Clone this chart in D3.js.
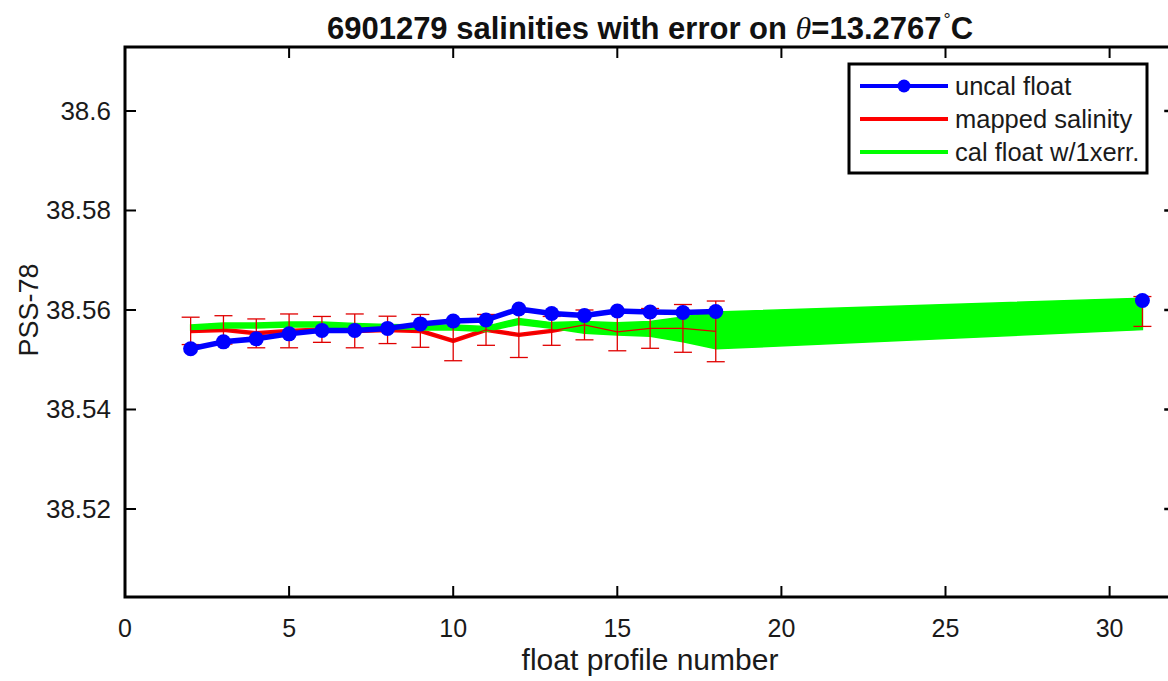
<!DOCTYPE html>
<html><head><meta charset="utf-8">
<script src="https://cdn.jsdelivr.net/npm/d3@7/dist/d3.min.js"></script>
<style>
html,body{margin:0;padding:0;background:#fff;}
svg{display:block;font-family:"Liberation Sans",Arial,sans-serif;}
</style></head>
<body>
<svg id="chart" width="1168" height="681"></svg>
<script>
// ---- data ----
const profiles = [2,3,4,5,6,7,8,9,10,11,12,13,14,15,16,17,18,31];
const uncalSal = [38.5522,38.5536,38.5542,38.5552,38.5559,38.5559,38.5563,38.5572,38.5578,38.5580,38.5602,38.5593,38.5589,38.5598,38.5596,38.5595,38.5597,38.5619];
const mappedSal = [38.5558,38.5560,38.5553,38.5558,38.5561,38.5558,38.5560,38.5558,38.5538,38.5560,38.5550,38.5558,38.5570,38.5556,38.5563,38.5563,38.5557,38.5597];
const mappedErr = [0.00275,0.00285,0.0029,0.0034,0.0026,0.0034,0.00275,0.0033,0.0040,0.0031,0.00455,0.0029,0.0030,0.0038,0.0040,0.0048,0.0061,0.0030];
const calSal = [38.5565,38.5569,38.5569,38.5571,38.5571,38.5568,38.5566,38.5565,38.5565,38.5562,38.5577,38.5569,38.5565,38.5562,38.5562,38.5561,38.5559,38.5592];
const calErr = [0.0005,0.0005,0.0005,0.0005,0.0005,0.0005,0.0005,0.0005,0.0005,0.0005,0.0006,0.00056,0.00117,0.00124,0.0015,0.0025,0.0037,0.00315];
const xTicks = [0,5,10,15,20,25,30];
const yTicks = [38.52,38.54,38.56,38.58,38.6];
const yTickLabels = ["38.52","38.54","38.56","38.58","38.6"];
const legendLabels = ["uncal float","mapped salinity","cal float w/1xerr."];

// ---- layout ----
const svg = d3.select("#chart");
const L = 125, T = 47, B = 597;
const x = d3.scaleLinear().domain([0,32]).range([L, L + 32*32.82]);
const y = d3.scaleLinear().domain([38.50231,38.61286]).range([B, T]);
const R = x(32);

const rows = profiles.map((p,i)=>({p, u:uncalSal[i], m:mappedSal[i], me:mappedErr[i], c:calSal[i], ce:calErr[i]}));
const segs = [];
rows.forEach((d,i)=>{ if(i===0 || d.p - rows[i-1].p > 1) segs.push([]); segs[segs.length-1].push(d); });

svg.append("rect").attr("width",1168).attr("height",681).attr("fill","#fff");

const g = svg.append("g");
const lineM = d3.line().x(d=>x(d.p)).y(d=>y(d.m));
segs.filter(s=>s.length>1).forEach(s=>g.append("path").attr("d",lineM(s)).attr("fill","none").attr("stroke","#ff0000").attr("stroke-width",4.5).attr("stroke-linejoin","round"));
const area = d3.area().x(d=>x(d.p)).y0(d=>y(d.c - d.ce)).y1(d=>y(d.c + d.ce));
g.append("path").attr("d",area(rows)).attr("fill","#00ff00").attr("stroke","#00ff00").attr("stroke-width",1.5);
segs.filter(s=>s.length>1).forEach(s=>g.append("path").attr("d",lineM(s)).attr("fill","none").attr("stroke","#e00000").attr("stroke-width",1.3));
const eb = g.append("g").attr("stroke","#e00000").attr("stroke-width",1.3);
rows.forEach(d=>{
  const xc = x(d.p), y1 = y(d.m + d.me), y2 = y(d.m - d.me);
  eb.append("line").attr("x1",xc).attr("x2",xc).attr("y1",y1).attr("y2",y2);
  eb.append("line").attr("x1",xc-9).attr("x2",xc+9).attr("y1",y1).attr("y2",y1);
  eb.append("line").attr("x1",xc-9).attr("x2",xc+9).attr("y1",y2).attr("y2",y2);
});
const lineU = d3.line().x(d=>x(d.p)).y(d=>y(d.u));
segs.filter(s=>s.length>1).forEach(s=>g.append("path").attr("d",lineU(s)).attr("fill","none").attr("stroke","#0000ff").attr("stroke-width",5.5).attr("stroke-linejoin","round"));
g.selectAll("circle.u").data(rows).join("circle").attr("class","u")
  .attr("cx",d=>x(d.p)).attr("cy",d=>y(d.u)).attr("r",7.5).attr("fill","#0000ff");

// ---- axes box ----
const ax = svg.append("g");
ax.append("rect").attr("x",L).attr("y",T).attr("width",R-L).attr("height",B-T).attr("fill","none").attr("stroke","#000").attr("stroke-width",3);
const tl = 11;
xTicks.forEach(t=>{
  ax.append("line").attr("x1",x(t)).attr("x2",x(t)).attr("y1",B).attr("y2",B-tl).attr("stroke","#000").attr("stroke-width",2);
  ax.append("line").attr("x1",x(t)).attr("x2",x(t)).attr("y1",T).attr("y2",T+tl).attr("stroke","#000").attr("stroke-width",2);
  ax.append("text").attr("x",x(t)).attr("y",637).attr("text-anchor","middle").attr("font-size",25).attr("fill","#1a1a1a").text(t);
});
yTicks.forEach((t,i)=>{
  ax.append("line").attr("x1",L).attr("x2",L+tl).attr("y1",y(t)).attr("y2",y(t)).attr("stroke","#000").attr("stroke-width",2);
  ax.append("line").attr("x1",R).attr("x2",R-tl).attr("y1",y(t)).attr("y2",y(t)).attr("stroke","#000").attr("stroke-width",2.5);
  ax.append("text").attr("x",111).attr("y",y(t)+9).attr("text-anchor","end").attr("font-size",26).attr("fill","#1a1a1a").text(yTickLabels[i]);
});
svg.append("text").attr("x",650).attr("y",670).attr("text-anchor","middle").attr("font-size",30).attr("fill","#1a1a1a").text("float profile number");
svg.append("text").attr("transform","translate(38,310) rotate(-90)").attr("text-anchor","middle").attr("font-size",27).attr("fill","#1a1a1a").text("PSS-78");

// title
const title = svg.append("text").attr("x",650).attr("y",39).attr("text-anchor","middle").attr("font-size",31).attr("font-weight","bold").attr("fill","#111");
title.append("tspan").text("6901279 salinities with error on ");
title.append("tspan").attr("font-family","'Liberation Serif','DejaVu Serif',serif").attr("font-style","italic").attr("font-weight","normal").attr("font-size",32).text("θ");
title.append("tspan").text("=13.2767");
title.append("tspan").attr("font-size",18).attr("font-weight","normal").attr("dy",-13).attr("dx",2).text("°");
title.append("tspan").attr("dy",13).text("C");

// legend
const lg = svg.append("g");
lg.append("rect").attr("x",849).attr("y",64).attr("width",298).attr("height",109).attr("fill","#fff").attr("stroke","#000").attr("stroke-width",3);
const legendColors = ["#0000ff","#ff0000","#00ff00"];
const legendY = [86,119,152];
legendLabels.forEach((lab,i)=>{
  lg.append("line").attr("x1",860).attr("x2",948).attr("y1",legendY[i]).attr("y2",legendY[i]).attr("stroke",legendColors[i]).attr("stroke-width",4);
  lg.append("text").attr("x",955).attr("y",legendY[i]+9).attr("font-size",25.5).attr("fill","#1a1a1a").text(lab);
});
lg.append("circle").attr("cx",904).attr("cy",legendY[0]).attr("r",6.5).attr("fill","#0000ff");
</script>
</body></html>
